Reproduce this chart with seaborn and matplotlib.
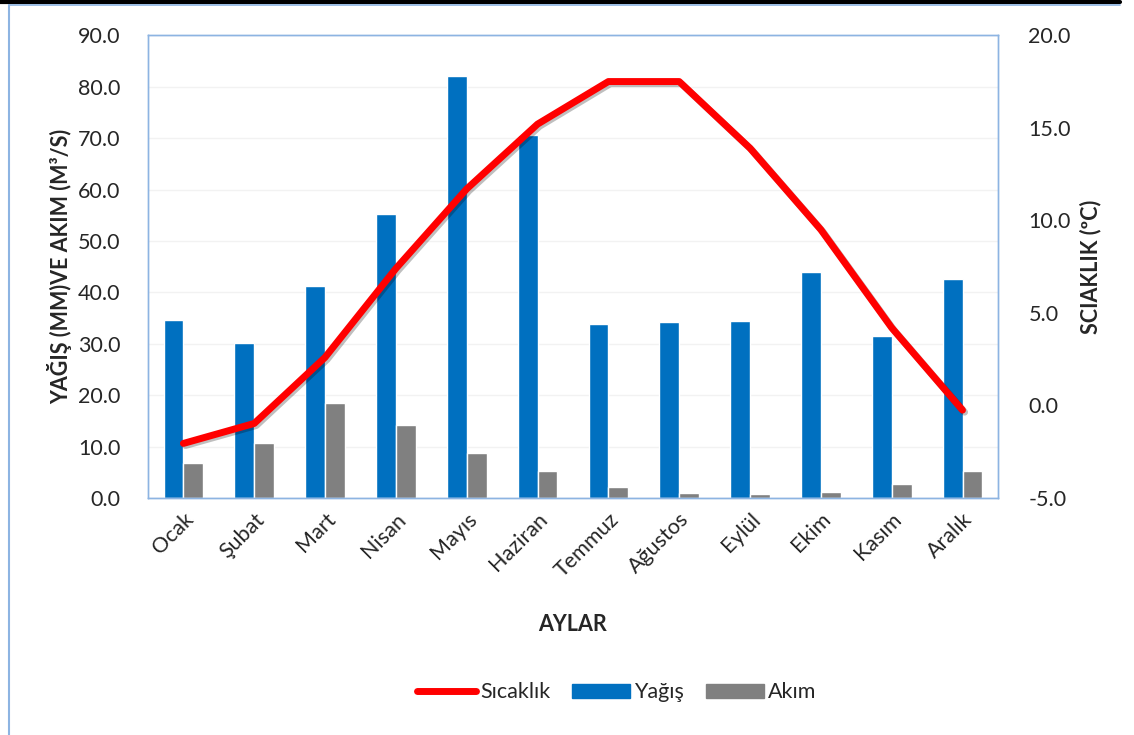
import numpy as np
import pandas as pd
import seaborn as sns
import matplotlib.pyplot as plt
from matplotlib.ticker import FormatStrFormatter
from matplotlib.lines import Line2D
from matplotlib.patches import Patch
import matplotlib.patheffects as pe

# data
aylar = ['Ocak', 'Şubat', 'Mart', 'Nisan', 'Mayıs', 'Haziran',
         'Temmuz', 'Ağustos', 'Eylül', 'Ekim', 'Kasım', 'Aralık']
yagis = [34.7, 30.1, 41.3, 55.3, 82.1, 70.6, 33.8, 34.3, 34.5, 44.0, 31.6, 42.6]
akim = [6.9, 10.7, 18.5, 14.2, 8.7, 5.2, 2.1, 0.9, 0.8, 1.2, 2.7, 5.2]
sicaklik = [-2.05, -0.97, 2.6, 7.4, 11.7, 15.2, 17.5, 17.5, 13.9, 9.5, 4.2, -0.25]

renk_yagis = '#0070C0'
renk_akim = '#808080'
renk_sicak = '#FF0000'
kenar = '#8DB4E2'

sns.set_style('white')
plt.rcParams['font.family'] = ['Lato', 'DejaVu Sans']
fs = 15.5

df = pd.DataFrame({
    'ay': aylar * 2,
    'deger': yagis + akim,
    'seri': ['Yağış'] * 12 + ['Akım'] * 12,
})

fig = plt.figure(figsize=(11.34, 7.35), dpi=100)
ax = fig.add_axes([0.1305, 0.3224, 0.7495, 0.6296])

ax.grid(axis='y', color='#f2f2f2', linewidth=1)
ax.set_axisbelow(True)
sns.barplot(data=df, x='ay', y='deger', hue='seri', order=aylar,
            palette={'Yağış': renk_yagis, 'Akım': renk_akim},
            width=0.56, saturation=1, ax=ax, legend=False)

ax.set_ylim(0, 90)
ax.set_yticks(np.arange(0, 91, 10))
ax.yaxis.set_major_formatter(FormatStrFormatter('%.1f'))
ax.set_xlim(-0.5, len(aylar) - 0.5)
ax.tick_params(axis='y', labelsize=fs, length=0, pad=20)
ax.tick_params(axis='x', labelsize=fs, length=0, pad=8)
plt.setp(ax.get_xticklabels(), rotation=45, ha='right', rotation_mode='anchor')
ax.set_xlabel('AYLAR', fontsize=fs, fontweight='bold', labelpad=24)
ax.set_ylabel('YAĞIŞ (MM)VE AKIM (M³/S)', fontsize=fs, fontweight='bold', labelpad=4)

ax2 = ax.twinx()
sns.lineplot(x=np.arange(len(aylar)), y=sicaklik, color=renk_sicak, linewidth=5,
             ax=ax2, path_effects=[pe.SimpleLineShadow(offset=(1.5, -1.5), alpha=0.25),
                                   pe.Normal()])
ax2.set_ylim(-5, 20)
ax2.set_yticks(np.arange(-5, 21, 5))
ax2.yaxis.set_major_formatter(FormatStrFormatter('%.1f'))
ax2.tick_params(axis='y', labelsize=fs, length=0, pad=22)
ax2.set_ylabel('SCIAKLIK (ºC)', fontsize=fs, fontweight='bold', labelpad=6)
ax2.set_xlim(-0.5, len(aylar) - 0.5)

for a in (ax, ax2):
    for s in a.spines.values():
        s.set_color(kenar)
        s.set_linewidth(1)

# outer frame lines
fig.add_artist(Line2D([0.0, 0.988], [0.997, 0.997], color='black', linewidth=3,
                      transform=fig.transFigure))
fig.add_artist(Line2D([0.008, 0.988], [0.993, 0.993], color=kenar, linewidth=1.2,
                      transform=fig.transFigure))
fig.add_artist(Line2D([0.008, 0.008], [0.0, 0.993], color=kenar, linewidth=1.5,
                      transform=fig.transFigure))

handles = [Line2D([], [], color=renk_sicak, linewidth=5, solid_capstyle='round'),
           Patch(color=renk_yagis), Patch(color=renk_akim)]
fig.legend(handles, ['Sıcaklık', 'Yağış', 'Akım'], loc='center',
           bbox_to_anchor=(0.544, 0.058), ncol=3, frameon=False, fontsize=fs,
           handlelength=2.7, handleheight=0.65, columnspacing=1.0, handletextpad=0.2)

fig.savefig('out.png', dpi=100)
